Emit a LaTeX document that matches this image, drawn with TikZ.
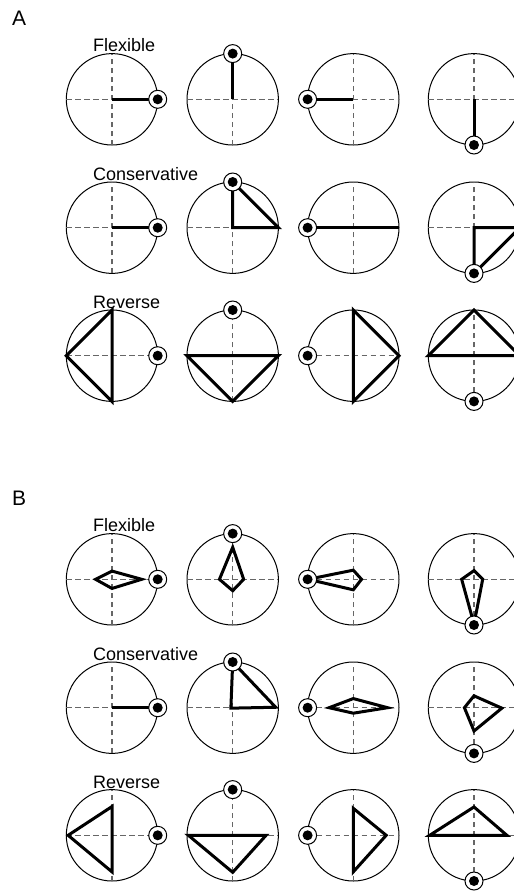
\documentclass[tikz,border=0pt]{standalone}
\usepackage{fontspec}
\setmainfont{Liberation Sans}
\tikzset{
  dialcirc/.style={draw=black,line width=1bp},
  dialgrid/.style={draw=black!60,line width=1.2bp,dash pattern=on 5.5bp off 3.5bp},
  dialshape/.style={draw=black,line width=3bp,line join=miter},
  ringmark/.style={draw=black,fill=white,line width=1bp},
  rowlabel/.style={anchor=base west,inner sep=0pt,font=\fontsize{18bp}{20bp}\selectfont},
  panellabel/.style={anchor=base west,inner sep=0pt,font=\fontsize{21bp}{24bp}\selectfont}
}
\newcommand\mydial[4]{%
  \begin{scope}[shift={(#1,#2)}]
    \begin{scope}[x=45.7bp,y=45.7bp]
      \draw[dialcirc] (0,0) circle[radius=1];
      \draw[dialgrid] (-1,0) -- (1,0);
      \draw[dialgrid] (0,-1) -- (0,1);
      \draw[dialshape] #3;
      \filldraw[ringmark] (#4:1) circle[radius=9bp];
      \fill[black] (#4:1) circle[radius=5bp];
    \end{scope}
  \end{scope}}
\begin{document}
\begin{tikzpicture}[x=1bp,y=-1bp]
\clip (0,0) rectangle (514,891);
\fill[white] (0,0) rectangle (514,891);
% Panel A
\node[panellabel] (labA) at (12,25) {A};
\node[rowlabel] (aflex) at (93,51.7) {Flexible};
\node[rowlabel] (acons) at (93,180.7) {Conservative};
\node[rowlabel] (arev) at (93,308.3) {Reverse};
% row 1
\mydial{112}{99.3}{(0,0) -- (1,0)}{0}
\mydial{232.7}{99.3}{(0,0) -- (0,1)}{90}
\mydial{353.3}{99.3}{(0,0) -- (-1,0)}{180}
\mydial{474}{99.3}{(0,0) -- (0,-1)}{270}
% row 2
\mydial{112}{227.7}{(0,0) -- (1,0)}{0}
\mydial{232.7}{227.7}{(0,1) -- (0,0) -- (1,0) -- cycle}{90}
\mydial{353.3}{227.7}{(-1,0) -- (1,0)}{180}
\mydial{474}{227.7}{(0,-1) -- (0,0) -- (1,0) -- cycle}{270}
% row 3
\mydial{112}{355.7}{(0,1) -- (-1,0) -- (0,-1) -- cycle}{0}
\mydial{232.7}{355.7}{(-1,0) -- (1,0) -- (0,-1) -- cycle}{90}
\mydial{353.3}{355.7}{(0,1) -- (1,0) -- (0,-1) -- cycle}{180}
\mydial{474}{355.7}{(-1,0) -- (0,1) -- (1,0) -- cycle}{270}
% Panel B
\node[panellabel] (labB) at (12,505) {B};
\node[rowlabel] (bflex) at (93,531.7) {Flexible};
\node[rowlabel] (bcons) at (93,660.7) {Conservative};
\node[rowlabel] (brev) at (93,788.3) {Reverse};
% row 1
\mydial{112}{579.3}{(-0.36,0) -- (0,0.18) -- (0.65,0) -- (0,-0.2) -- cycle}{0}
\mydial{232.7}{579.3}{(0,0.7) -- (0.24,0) -- (0,-0.25) -- (-0.29,0) -- cycle}{90}
\mydial{353.3}{579.3}{(-0.99,0) -- (0,0.2) -- (0.18,0) -- (0,-0.23) -- cycle}{180}
\mydial{474}{579.3}{(0,0.19) -- (0.19,0) -- (0,-0.98) -- (-0.27,0) -- cycle}{270}
% row 2
\mydial{112}{707.7}{(0,0) -- (1,0)}{0}
\mydial{232.7}{707.7}{(0,1) -- (-0.04,-0.01) -- (0.94,0.01) -- cycle}{90}
\mydial{353.3}{707.7}{(-0.53,0) -- (0,0.2) -- (0.75,0) -- (0,-0.12) -- cycle}{180}
\mydial{474}{707.7}{(0,0.26) -- (0.61,-0.01) -- (0,-0.51) -- (-0.21,0) -- cycle}{270}
% row 3
\mydial{112}{835.3}{(0,0.63) -- (-0.96,0) -- (0,-0.8) -- cycle}{0}
\mydial{232.7}{835.3}{(-0.97,0) -- (0.73,0) -- (0,-0.81) -- cycle}{90}
\mydial{353.3}{835.3}{(0,0.59) -- (0.72,0) -- (0,-0.8) -- cycle}{180}
\mydial{474}{835.3}{(-0.97,0) -- (0,0.62) -- (0.72,0) -- cycle}{270}
\end{tikzpicture}
\end{document}
